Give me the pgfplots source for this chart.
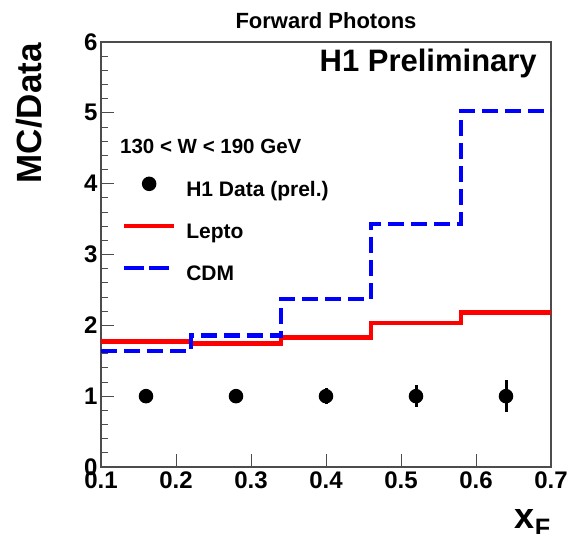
\documentclass[border=0pt]{standalone}
\usepackage{pgfplots}
\pgfplotsset{compat=1.18}
\usepackage{fontspec}
\setmainfont{Liberation Sans}

\definecolor{rootred}{RGB}{255,0,0}
\definecolor{rootblue}{RGB}{0,0,255}

\begin{document}
\begin{tikzpicture}
\path[use as bounding box] (-101pt,-66pt) rectangle (471pt,467pt);
\begin{axis}[
    at={(0,0)}, anchor=south west,
    scale only axis,
    width=450pt, height=425pt,
    xmin=0.1, xmax=0.7, ymin=0, ymax=6,
    xtick={0.1,0.2,...,0.7},
    xticklabels={0.1,0.2,0.3,0.4,0.5,0.6,0.7},
    ytick={0,1,...,6},
    minor y tick num=4,
    tick pos=left,
    tick align=inside,
    major tick length=13pt,
    minor tick length=7pt,
    axis line style={black!70, line width=1.2pt},
    every tick/.style={black!70, line width=1pt},
    /pgf/number format/assume math mode=true,
    ticklabel style={font=\fontsize{24}{26}\selectfont\bfseries},
    xticklabel style={yshift=-1pt},
    title={Forward Photons},
    title style={font=\fontsize{22}{24}\selectfont\bfseries, at={(0.5,1)}, anchor=south, yshift=7pt, inner sep=0pt},
    ylabel={MC/Data},
    ylabel style={font=\fontsize{35}{37}\selectfont\bfseries, at={(axis description cs:0,1)}, anchor=south east, yshift=59pt, xshift=-1pt, inner sep=0pt},
    xlabel={x\textsubscript{F}},
    xlabel style={font=\fontsize{36}{38}\selectfont\bfseries, at={(axis description cs:1,0)}, anchor=north east, yshift=-42pt, inner sep=0pt},
    legend style={draw=none, fill=none, at={(axis cs:0.1280,4.10)}, anchor=north west,
        inner sep=0pt, outer sep=0pt,
        font=\fontsize{21}{23}\selectfont\bfseries,
        nodes={inner sep=0pt, text height=15pt, text depth=5pt},
        row sep=22pt},
    legend cell align=left,
    /tikz/every odd column/.append style={column sep=10pt},
]
\addplot[black, only marks, mark=*, mark size=6pt, line width=2.5pt,
    error bars/.cd, y dir=both, y explicit, error mark=none,
    error bar style={line width=3pt, black},
    /pgfplots/legend image code/.code={\fill[black] (25pt,7.5pt) circle (6pt);}]
    coordinates {
    (0.16,1) +- (0,0.04)
    (0.28,1) +- (0,0.06)
    (0.40,1) +- (0,0.11)
    (0.52,1) +- (0,0.155)
    (0.64,1) +- (0,0.225)
};
\addlegendentry{H1 Data (prel.)}
\addplot[rootred, line width=4.3pt, const plot, mark=none,
    legend image code/.code={\draw[rootred, line width=4.3pt] (0pt,7.5pt) -- (50pt,7.5pt);}]
    coordinates {
    (0.10,1.77) (0.22,1.745) (0.34,1.83) (0.46,2.03) (0.58,2.18) (0.70,2.18)
};
\addlegendentry{Lepto}
\addplot[rootblue, line width=4.3pt, const plot, mark=none, dash pattern=on 16pt off 7pt,
    legend image code/.code={\draw[rootblue, line width=4.3pt, dash pattern=on 20pt off 5pt] (0pt,7.5pt) -- (50pt,7.5pt);}]
    coordinates {
    (0.10,1.64) (0.22,1.855) (0.34,2.37) (0.46,3.43) (0.58,5.03) (0.70,5.03)
};
\addlegendentry{CDM}
\node[anchor=west, inner sep=0pt, font=\fontsize{20.5}{22}\selectfont\bfseries] at (axis cs:0.1253,4.53) {130 < W < 190 GeV};
\node[anchor=east, inner sep=0pt, font=\fontsize{31}{33}\selectfont\bfseries] at (axis cs:0.6813,5.69) {H1 Preliminary};
\end{axis}
\end{tikzpicture}
\end{document}
